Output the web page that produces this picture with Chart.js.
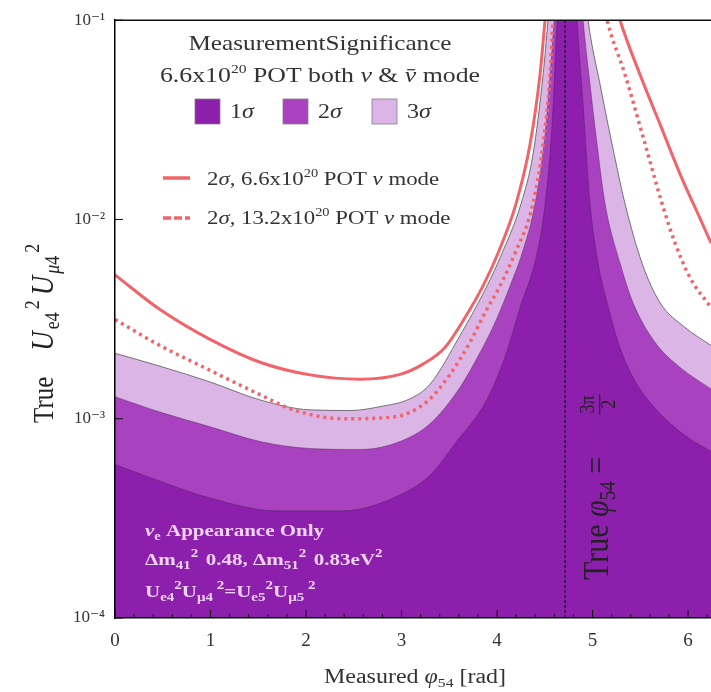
<!DOCTYPE html>
<html>
<head>
<meta charset="utf-8">
<script src="https://cdn.jsdelivr.net/npm/chart.js@4.4.1/dist/chart.umd.min.js"></script>
<style>
  html, body { margin: 0; padding: 0; background: #fff; }
  #wrap { width: 711px; height: 692px; }
</style>
</head>
<body>
<div id="wrap"><canvas id="contourChart"></canvas></div>
<script>
// contour boundaries
// x: measured phi54 [rad], y: Ue4^2 Umu4^2 (value 1 = contour closes above the frame)
const sig1X = [0, 0.471, 0.995, 1.696, 2.387, 2.911, 3.298, 3.560, 3.895, 4.084, 4.241, 4.419, 4.503, 4.576, 4.628, 4.73, 4.838, 4.901, 4.974, 5.058, 5.152, 5.288, 5.424, 5.581, 5.759, 5.990, 6.241];
const sig1Y = [5.9e-4, 4.86e-4, 4.0e-4, 3.45e-4, 3.45e-4, 4.0e-4, 5.2e-4, 7.5e-4, 1.25e-3, 2.05e-3, 3.6e-3, 6.77e-3, 0.012, 0.030, 0.1, 1, 0.1, 0.0378, 0.012, 6.04e-3, 3.82e-3, 2.27e-3, 1.61e-3, 1.24e-3, 1.0e-3, 8.1e-4, 6.85e-4];

const sig2X = [0, 0.471, 0.995, 1.518, 2.042, 2.565, 2.984, 3.298, 3.613, 3.822, 3.979, 4.136, 4.262, 4.398, 4.503, 4.555, 4.597, 4.73, 4.901, 4.974, 5.047, 5.131, 5.288, 5.424, 5.654, 5.916, 6.241];
const sig2Y = [1.29e-3, 1.08e-3, 9.12e-4, 7.69e-4, 7.09e-4, 7.01e-4, 7.69e-4, 9.44e-4, 1.44e-3, 2.15e-3, 3.04e-3, 4.64e-3, 6.77e-3, 0.012, 0.0268, 0.0533, 0.1, 1, 0.1, 0.0475, 0.0239, 0.012, 6.04e-3, 3.82e-3, 2.42e-3, 1.81e-3, 1.41e-3];

const sig3X = [0, 0.471, 0.995, 1.518, 2.042, 2.461, 2.775, 3.089, 3.298, 3.613, 3.895, 4.052, 4.251, 4.377, 4.482, 4.534, 4.73, 4.953, 5.079, 5.204, 5.340, 5.518, 5.707, 5.969, 6.241];
const sig3Y = [2.13e-3, 1.835e-3, 1.53e-3, 1.243e-3, 1.108e-3, 1.10e-3, 1.15e-3, 1.26e-3, 1.49e-3, 2.62e-3, 4.64e-3, 6.77e-3, 0.012, 0.0213, 0.0533, 0.1, 1, 0.1, 0.0475, 0.0239, 0.012, 6.04e-3, 3.82e-3, 2.87e-3, 2.33e-3];

// 2 sigma, 6.6e20 POT nu mode
const nu66X = [0, 0.471, 0.995, 1.518, 2.042, 2.565, 2.984, 3.225, 3.455, 3.665, 3.853, 4.010, 4.199, 4.346, 4.450, 4.503, 4.73, 5.288, 5.497, 5.707, 5.916, 6.126, 6.241];
const nu66Y = [5.27e-3, 3.53e-3, 2.50e-3, 1.92e-3, 1.66e-3, 1.58e-3, 1.67e-3, 1.88e-3, 2.28e-3, 3.22e-3, 4.64e-3, 6.77e-3, 0.012, 0.0239, 0.0533, 0.1, 1, 0.1, 0.0533, 0.030, 0.0169, 0.0101, 7.6e-3];

// 2 sigma, 13.2e20 POT nu mode
const nu132X = [0, 0.471, 0.995, 1.518, 1.864, 2.387, 2.911, 3.267, 3.508, 3.717, 3.874, 4.031, 4.188, 4.377, 4.482, 4.555, 4.586, 4.73, 5.152, 5.340, 5.550, 5.728, 5.864, 6.021, 6.241];
const nu132Y = [3.15e-3, 2.33e-3, 1.75e-3, 1.32e-3, 1.11e-3, 1.00e-3, 1.02e-3, 1.22e-3, 1.67e-3, 2.42e-3, 3.41e-3, 4.64e-3, 6.77e-3, 0.012, 0.0239, 0.0533, 0.1, 1, 0.1, 0.0533, 0.0239, 0.012, 7.6e-3, 5.1e-3, 3.61e-3];

const truePhi = 4.712;   // 3pi/2
const xRange = [0, 6.24];
const yRange = [1e-4, 1e-1];
const yTickLabels = { '-4': '10⁻⁴', '-3': '10⁻³', '-2': '10⁻²', '-1': '10⁻¹' };

const C1 = '#8C1FAB', C2 = '#A842BE', C3 = '#DBB5E5';
const RED = '#F0646A';
const SERIF = '"Liberation Serif", "DejaVu Serif", serif';
const SX = 1.2; // the figure is a bit wider than tall

const pts = (xs, ys) => xs.map((x, i) => ({ x: x, y: ys[i] }));

function setFont(ctx, p) {
  ctx.font = (p.style || '') + ' ' + p.size + 'px ' + SERIF;
}
function partWidth(ctx, p) {
  if (p.gap) return p.gap;
  if (p.frac) {
    setFont(ctx, p);
    return Math.max(ctx.measureText(p.frac[0]).width, ctx.measureText(p.frac[1]).width) + 4;
  }
  setFont(ctx, p);
  return ctx.measureText(p.t).width + (p.pad || 0);
}
function drawParts(ctx, parts, align) {
  let w = 0;
  parts.forEach(p => { w += partWidth(ctx, p); });
  let cx = align === 'center' ? -w / 2 : 0;
  ctx.textAlign = 'left';
  ctx.textBaseline = 'alphabetic';
  parts.forEach(p => {
    const pw = partWidth(ctx, p);
    setFont(ctx, p);
    if (p.frac) {
      const nw = ctx.measureText(p.frac[0]).width, dw = ctx.measureText(p.frac[1]).width;
      ctx.fillText(p.frac[0], cx + (pw - nw) / 2, p.numDy);
      ctx.fillText(p.frac[1], cx + (pw - dw) / 2, p.denDy);
      ctx.fillRect(cx + 1, p.barDy, pw - 2, 1);
    } else if (!p.gap) {
      ctx.fillText(p.t, cx, p.dy || 0);
      if (p.bar) ctx.fillRect(cx + pw * 0.2, (p.dy || 0) - p.size * 0.6, pw * 0.7, 1.2);
    }
    cx += pw;
  });
}
function textAt(ctx, parts, x, y, color, align, rotate) {
  ctx.save();
  ctx.translate(x, y);
  if (rotate) { ctx.rotate(-Math.PI / 2); ctx.scale(1, SX); }
  else ctx.scale(SX, 1);
  ctx.fillStyle = color;
  drawParts(ctx, parts, align);
  ctx.restore();
}

const overlay = {
  id: 'overlay',
  afterDatasetsDraw(chart) {
    const ctx = chart.ctx, a = chart.chartArea;
    const xs = chart.scales.x, ys = chart.scales.y;
    ctx.save();

    // inward tick marks
    ctx.strokeStyle = '#111';
    ctx.lineWidth = 1;
    ctx.beginPath();
    ys.ticks.forEach(t => {
      const e = Math.log10(t.value);
      const major = Math.abs(e - Math.round(e)) < 1e-6;
      const py = ys.getPixelForValue(t.value);
      ctx.moveTo(a.left, py);
      ctx.lineTo(a.left + (major ? 8 : 4), py);
    });
    for (let v = xs.min; v <= xs.max + 1e-9; v += 0.2) {
      const major = Math.abs(v - Math.round(v)) < 1e-6;
      const px = xs.getPixelForValue(v);
      ctx.moveTo(px, a.bottom);
      ctx.lineTo(px, a.bottom - (major ? 8 : 4));
    }
    ctx.stroke();

    // top frame
    ctx.lineWidth = 1.5;
    ctx.beginPath();
    ctx.moveTo(a.left, a.top);
    ctx.lineTo(a.right, a.top);
    ctx.stroke();

    const ink = '#333';
    // legend block
    textAt(ctx, [{ t: 'MeasurementSignificance', size: 21 }], 320, 50, ink, 'center');
    textAt(ctx, [
      { t: '6.6x10', size: 21.5 }, { t: '20', size: 13, dy: -9 }, { t: ' POT both ', size: 21.5 },
      { t: 'ν', size: 21.5, style: 'italic' }, { t: ' & ', size: 21.5 },
      { t: 'ν', size: 21.5, style: 'italic', bar: true }, { t: ' mode', size: 21.5 }
    ], 320, 82, ink, 'center');

    const boxes = [[C1, '1', 195], [C2, '2', 283], [C3, '3', 372]];
    boxes.forEach(b => {
      ctx.fillStyle = b[0];
      ctx.fillRect(b[2], 99, 25, 25);
      ctx.strokeStyle = '#8a7a8c';
      ctx.lineWidth = 0.8;
      ctx.strokeRect(b[2], 99, 25, 25);
      textAt(ctx, [{ t: b[1], size: 20 }, { t: 'σ', size: 20, style: 'italic' }], b[2] + 35, 118, ink, 'left');
    });

    ctx.strokeStyle = RED;
    ctx.lineWidth = 3.5;
    ctx.beginPath(); ctx.moveTo(163, 178); ctx.lineTo(190, 178); ctx.stroke();
    ctx.setLineDash([8, 3]);
    ctx.beginPath(); ctx.moveTo(163, 218); ctx.lineTo(190, 218); ctx.stroke();
    ctx.setLineDash([]);
    const lineLabel = pot => [
      { t: '2', size: 19 }, { t: 'σ', size: 19, style: 'italic' }, { t: ', ' + pot + 'x10', size: 19 },
      { t: '20', size: 12, dy: -8 }, { t: ' POT ', size: 19 }, { t: 'ν', size: 19, style: 'italic' },
      { t: ' mode', size: 19 }
    ];
    textAt(ctx, lineLabel('6.6'), 207, 185, ink, 'left');
    textAt(ctx, lineLabel('13.2'), 207, 224, ink, 'left');

    // notes in the lower left corner
    const note = '#EFD3F3';
    const B = 'bold';
    textAt(ctx, [
      { t: 'ν', size: 17.5, style: 'italic bold' }, { t: 'e', size: 12, style: B, dy: 4 },
      { t: ' Appearance Only', size: 17.5, style: B }
    ], 145, 536, note, 'left');
    textAt(ctx, [
      { t: 'Δm', size: 17.5, style: B }, { t: '41', size: 12.5, style: B, dy: 4 }, { t: '2', size: 12.5, style: B, dy: -8, pad: 2 },
      { t: ' 0.48, Δm', size: 17.5, style: B }, { t: '51', size: 12.5, style: B, dy: 4 }, { t: '2', size: 12.5, style: B, dy: -8, pad: 2 },
      { t: ' 0.83eV', size: 17.5, style: B }, { t: '2', size: 12.5, style: B, dy: -8 }
    ], 145, 565, note, 'left');
    textAt(ctx, [
      { t: 'U', size: 17.5, style: B }, { t: 'e4', size: 12.5, style: B, dy: 4 }, { t: '2', size: 12.5, style: B, dy: -8 },
      { t: 'U', size: 17.5, style: B }, { t: 'μ4', size: 12.5, style: B, dy: 4 }, { t: ' 2', size: 12.5, style: B, dy: -8 },
      { t: '=U', size: 17.5, style: B }, { t: 'e5', size: 12.5, style: B, dy: 4 }, { t: '2', size: 12.5, style: B, dy: -8 },
      { t: 'U', size: 17.5, style: B }, { t: 'μ5', size: 12.5, style: B, dy: 4 }, { t: ' 2', size: 12.5, style: B, dy: -8 }
    ], 145, 597, note, 'left');

    // label on the true-phi line
    textAt(ctx, [
      { t: 'True ', size: 30 }, { t: 'φ', size: 30, style: 'italic' }, { t: '54', size: 19, dy: 6 },
      { t: ' = ', size: 30 }, { gap: 34 }, { frac: ['3π', '2'], size: 18, numDy: -11.5, denDy: 6, barDy: -7.5 }
    ], xs.getPixelForValue(truePhi) + 43, 580, '#222', 'left', true);

    // axis titles
    textAt(ctx, [
      { t: 'True', size: 25 }, { gap: 26 }, { t: 'U', size: 27, style: 'italic', pad: 2 }, { t: 'e4', size: 18, dy: 5, pad: 3 },
      { t: '2', size: 18, dy: -12, pad: 5 }, { t: 'U', size: 27, style: 'italic', pad: 2 }, { t: 'μ', size: 18, style: 'italic', dy: 5 },
      { t: '4', size: 18, dy: 5, pad: 3 }, { t: '2', size: 18, dy: -12 }
    ], 53, 423, '#222', 'left', true);
    textAt(ctx, [
      { t: 'Measured ', size: 20 }, { t: 'φ', size: 20, style: 'italic' }, { t: '54', size: 13, dy: 4 },
      { t: ' [rad]', size: 20 }
    ], 415, 683, '#333', 'center');

    ctx.restore();
  }
};

const common = { pointRadius: 0, cubicInterpolationMode: 'monotone', tension: 0.4 };

new Chart(document.getElementById('contourChart'), {
  type: 'line',
  data: {
    datasets: [
      Object.assign({ label: 'true phi', data: [{ x: truePhi, y: yRange[0] }, { x: truePhi, y: yRange[1] }],
        borderColor: '#111', borderWidth: 1.2, borderDash: [3, 2], fill: false, order: 0 },
        { pointRadius: 0, tension: 0, cubicInterpolationMode: 'default' }),
      Object.assign({ label: '2σ 13.2e20 ν', data: pts(nu132X, nu132Y), borderColor: RED, borderWidth: 3.5,
        borderDash: [3, 4], fill: false, order: 1 }, common),
      Object.assign({ label: '2σ 6.6e20 ν', data: pts(nu66X, nu66Y), borderColor: RED, borderWidth: 3,
        fill: false, order: 2 }, common),
      Object.assign({ label: '1σ', data: pts(sig1X, sig1Y), backgroundColor: C1, borderColor: 'rgba(70,30,80,0.5)',
        borderWidth: 0.8, fill: 'start', order: 3 }, common),
      Object.assign({ label: '2σ', data: pts(sig2X, sig2Y), backgroundColor: C2, borderColor: 'rgba(70,30,80,0.5)',
        borderWidth: 0.8, fill: 'start', order: 4 }, common),
      Object.assign({ label: '3σ', data: pts(sig3X, sig3Y), backgroundColor: C3, borderColor: '#555',
        borderWidth: 0.8, fill: 'start', order: 5 }, common)
    ]
  },
  options: {
    responsive: true,
    maintainAspectRatio: false,
    animation: false,
    events: [],
    layout: { padding: { top: 15, right: 0, left: 0, bottom: 0 } },
    elements: { line: { capBezierPoints: false } },
    plugins: { legend: { display: false }, tooltip: { enabled: false } },
    scales: {
      x: {
        type: 'linear',
        min: xRange[0],
        max: xRange[1],
        grid: { display: false, drawTicks: false },
        border: { display: true, color: '#000', width: 1.5, z: 1 },
        ticks: {
          stepSize: 1,
          includeBounds: false,
          padding: 12,
          color: '#333',
          font: { family: SERIF, size: 19 },
          callback: v => (Math.abs(v - Math.round(v)) < 1e-9 ? String(Math.round(v)) : null)
        },
        afterFit: s => { s.height = 74; }
      },
      y: {
        type: 'logarithmic',
        min: yRange[0],
        max: yRange[1],
        grid: { display: false, drawTicks: false },
        border: { display: true, color: '#000', width: 1.5, z: 1 },
        ticks: {
          autoSkip: false,
          padding: 10,
          color: '#333',
          font: { family: SERIF, size: 17 },
          callback: v => {
            const e = Math.log10(v);
            return Math.abs(e - Math.round(e)) < 1e-6 ? yTickLabels[String(Math.round(e))] : null;
          }
        },
        afterFit: s => { s.width = 115; }
      }
    }
  },
  plugins: [overlay]
});
</script>
</body>
</html>
